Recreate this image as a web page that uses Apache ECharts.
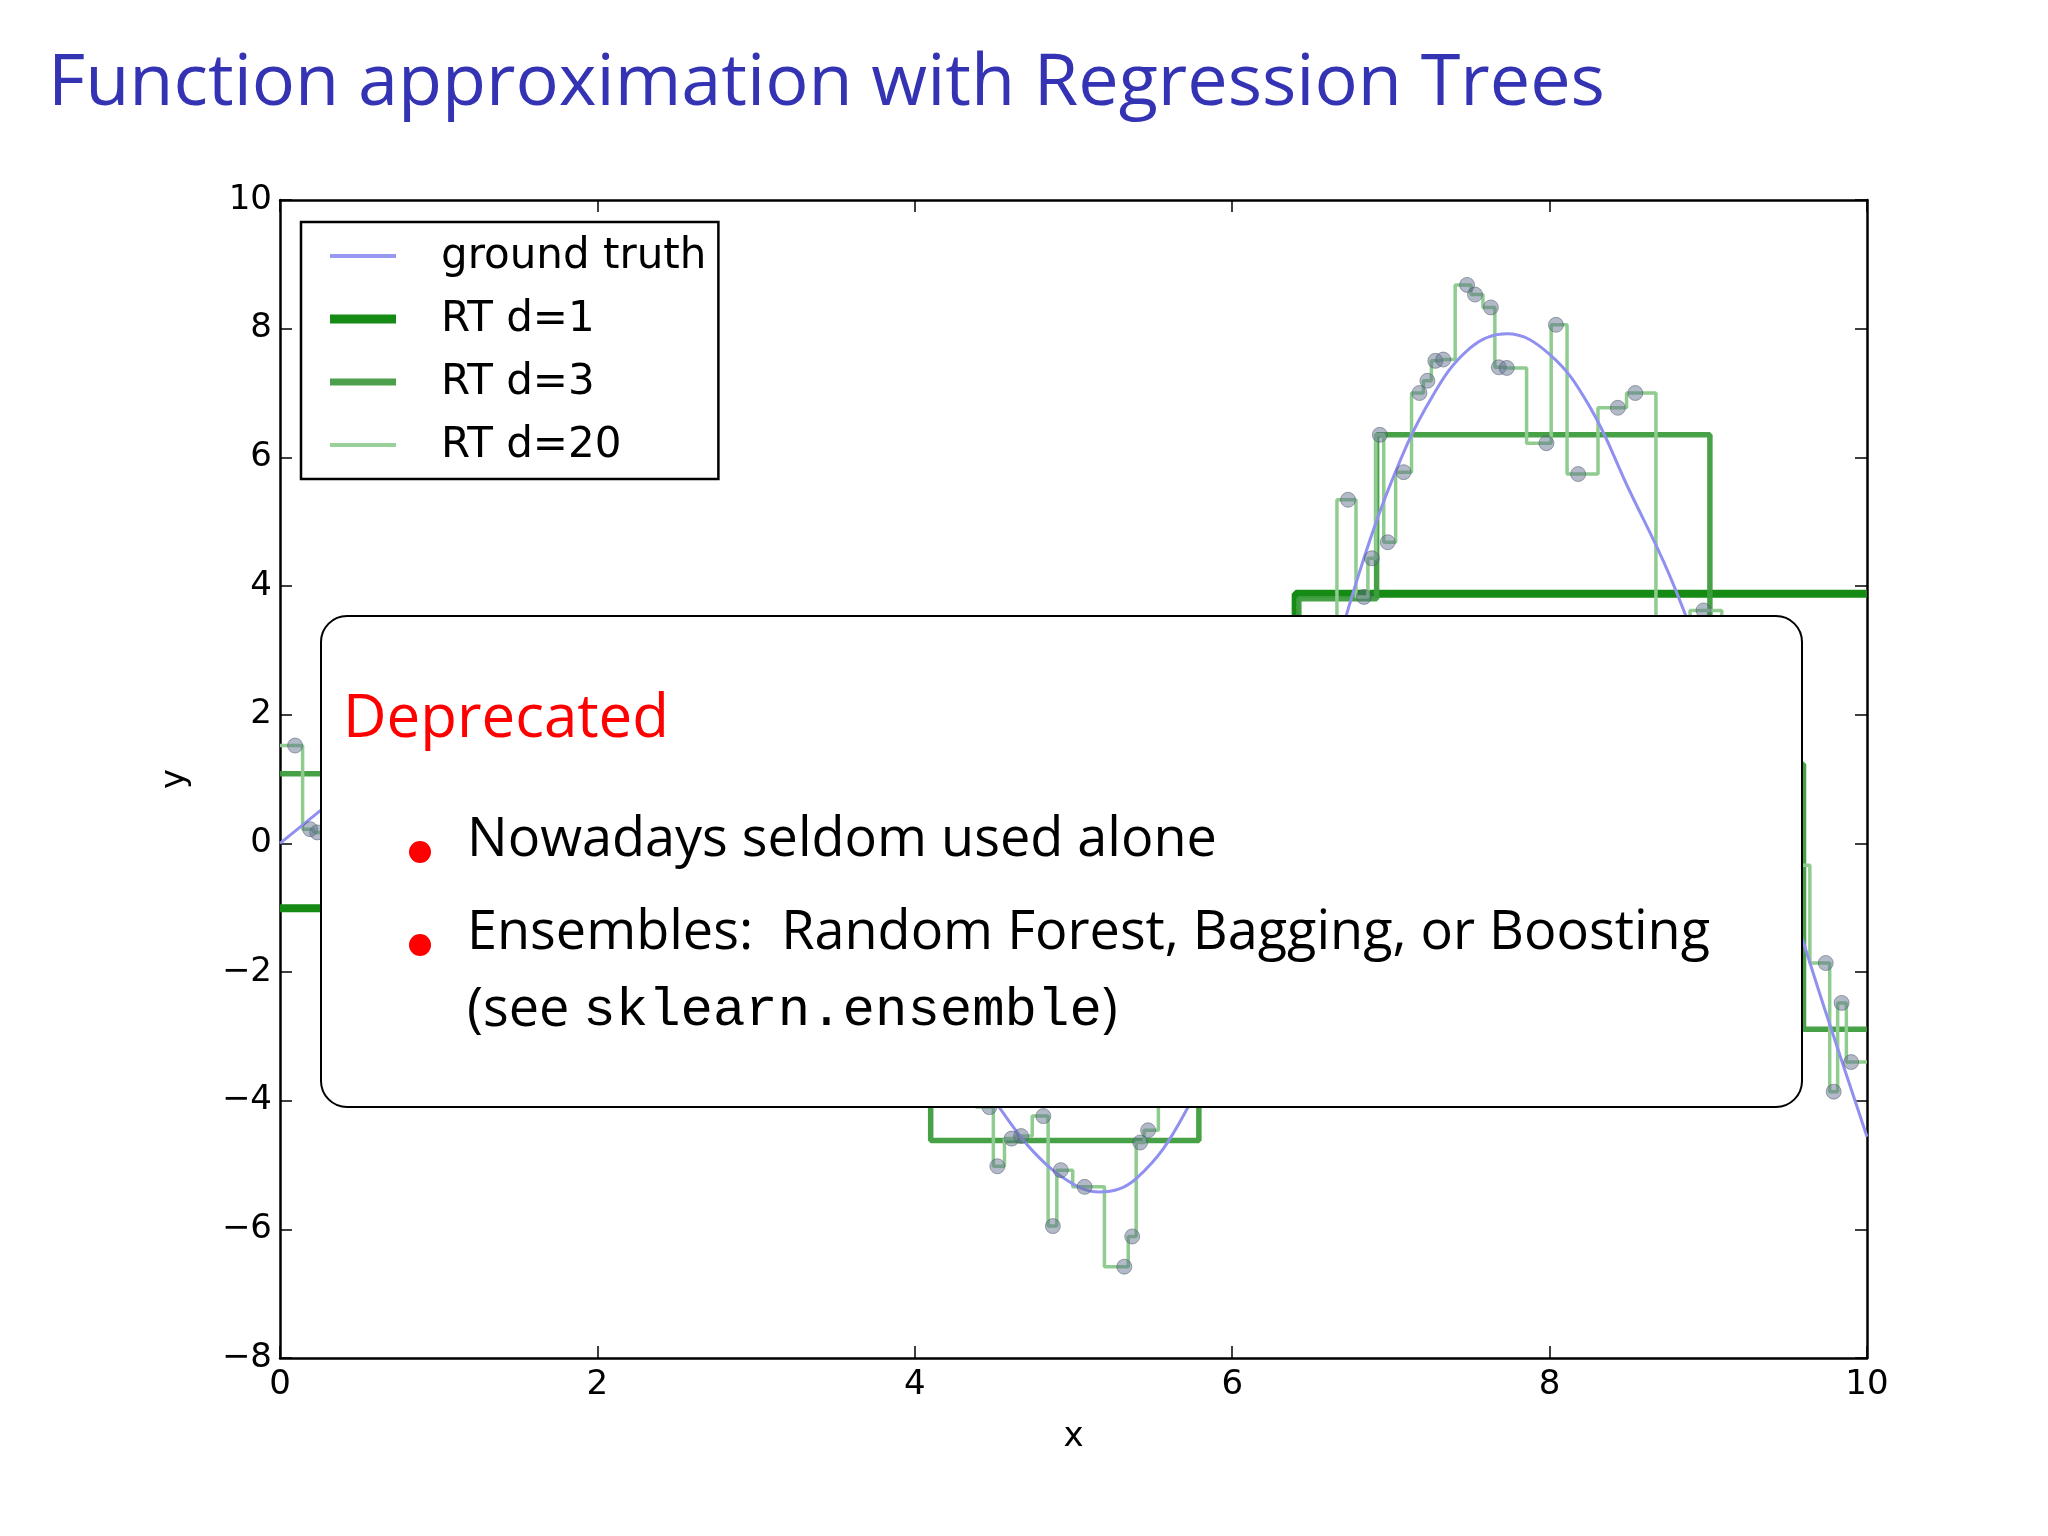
<!DOCTYPE html>
<html>
<head>
<meta charset="utf-8">
<script src="https://cdn.jsdelivr.net/npm/echarts@6/dist/echarts.min.js"></script>
<style>
html,body{margin:0;padding:0;background:#fff;}
#main{width:2048px;height:1536px;}
</style>
</head>
<body>
<div id="main"></div>
<script>
//坐标轴刻度
var xTicks = [0, 2, 4, 6, 8, 10];
var yTicks = [-8, -6, -4, -2, 0, 2, 4, 6, 8, 10];
//真实曲线
var truthX = [0, 0.25, 0.5, 1, 1.5, 2, 2.5, 3, 3.5, 4, 4.5, 4.75, 5, 5.16, 5.4, 5.7, 6, 6.3, 6.6, 6.8, 7, 7.25, 7.5, 7.73, 8, 8.25, 8.5, 8.75, 9, 9.25, 9.5, 9.75, 10];
var truthY = [0, 0.5, 1.0, 1.6, 1.9, 1.8, 1.3, 0.4, -0.8, -2.4, -4.0, -4.8, -5.3, -5.42, -5.2, -4.2, -2.5, -0.3, 2.5, 4.2, 5.6, 6.9, 7.7, 7.92, 7.6, 6.8, 5.5, 4.2, 2.6, 0.9, -0.8, -2.7, -4.56];
//样本点
var sampleX = [0.095, 0.19, 0.235, 0.6, 1.0, 1.4, 1.9, 2.3, 2.8, 3.2, 3.6, 4.0, 4.3, 4.47, 4.52, 4.61, 4.67, 4.81, 4.87, 4.92, 5.07, 5.32, 5.37, 5.42, 5.47, 5.6, 5.9, 6.2, 6.5, 6.59, 6.73, 6.83, 6.88, 6.93, 6.98, 7.08, 7.18, 7.23, 7.28, 7.33, 7.48, 7.53, 7.63, 7.68, 7.73, 7.98, 8.04, 8.18, 8.43, 8.54, 8.80, 8.97, 9.2, 9.54, 9.74, 9.79, 9.84, 9.90];
var sampleY = [1.52, 0.22, 0.17, 1.3, 1.9, 1.5, 2.3, 1.2, 0.6, -0.3, -1.5, -2.6, -3.6, -4.10, -5.02, -4.59, -4.55, -4.24, -5.95, -5.08, -5.34, -6.58, -6.11, -4.65, -4.46, -3.9, -3.0, -1.0, 1.9, 2.2, 5.34, 3.83, 4.43, 6.35, 4.68, 5.77, 7.0, 7.19, 7.50, 7.52, 8.68, 8.53, 8.33, 7.40, 7.39, 6.22, 8.06, 5.74, 6.77, 7.00, 2.9, 3.62, 1.5, -0.34, -1.86, -3.86, -2.48, -3.40];
//深度1、3的分段（起点x，值）
var d1X = [0, 6.40, 10];
var d1Y = [-1.01, 3.88, 3.88];
var d3X = [0, 3.0, 4.10, 5.79, 6.42, 6.91, 9.01, 9.60, 10];
var d3Y = [1.08, -2.3, -4.62, 0.3, 3.8, 6.35, 1.23, -2.89, -2.89];

function zip(xs, ys) {
    var out = [];
    for (var i = 0; i < xs.length; i++) out.push([xs[i], ys[i]]);
    return out;
}
var d20 = [[0, sampleY[0]]].concat(zip(sampleX, sampleY), [[10, sampleY[sampleY.length - 1]]]);

var font = 'DejaVu Sans';
var textFont = '"Open Sans"';
var myChart = echarts.init(document.getElementById('main'));
function axisBase() {
    return {
        type: 'value',
        axisLine: {onZero: false, lineStyle: {color: '#000', width: 2.5}},
        axisTick: {inside: true, length: 12, lineStyle: {color: '#000', width: 1.5}},
        splitLine: {show: false}
    };
}
//图例的线条样式
var legendNames = ['ground truth', 'RT d=1', 'RT d=3', 'RT d=20'];
var legendColors = ['#9898f0', '#158a15', '#4ca04c', '#98d098'];
var legendWidths = [4, 9, 7, 4];
var legendGraphics = [];
for (var i = 0; i < legendNames.length; i++) {
    legendGraphics.push({type: 'line', z: 50,
        shape: {x1: 330, y1: 256 + i * 63, x2: 396, y2: 256 + i * 63},
        style: {stroke: legendColors[i], lineWidth: legendWidths[i]}});
}
var option = {
    backgroundColor: '#fff',
    animation: false,
    grid: {left: 280, right: 181, top: 200, bottom: 178},
    legend: {
        orient: 'vertical', left: 301, top: 222,
        padding: [14, 12, 12, 26], itemGap: 21,
        itemWidth: 66, itemHeight: 14,
        borderColor: '#000', borderWidth: 2.5, backgroundColor: '#fff',
        textStyle: {fontFamily: font, fontSize: 42, color: '#000', padding: [0, 0, 0, 42]},
        data: legendNames.map(function (n) { return {name: n, itemStyle: {opacity: 0}, lineStyle: {opacity: 0}}; }),
        z: 5
    },
    xAxis: [
        Object.assign(axisBase(), {
            min: 0, max: 10, interval: 2, name: 'x', nameLocation: 'middle', nameGap: 62,
            nameTextStyle: {fontFamily: font, fontSize: 34, color: '#000'},
            axisLabel: {fontFamily: font, fontSize: 34, color: '#000', margin: 10}
        }),
        Object.assign(axisBase(), {min: 0, max: 10, interval: 2, position: 'top', axisLabel: {show: false}})
    ],
    yAxis: [
        Object.assign(axisBase(), {
            min: -8, max: 10, interval: 2, name: 'y', nameLocation: 'middle', nameGap: 88,
            nameTextStyle: {fontFamily: font, fontSize: 34, color: '#000'},
            axisLabel: {fontFamily: font, fontSize: 34, color: '#000', margin: 8,
                formatter: function (v) { return String(v).replace('-', '\u2212'); }}
        }),
        Object.assign(axisBase(), {min: -8, max: 10, interval: 2, position: 'right', axisLabel: {show: false}})
    ],
    series: [
        {name: 'ground truth', type: 'line', data: zip(truthX, truthY), smooth: 0.4, symbol: 'none',
            lineStyle: {color: '#9090f0', width: 3}, itemStyle: {color: '#9090f0'}, z: 3},
        {name: 'RT d=1', type: 'line', step: 'end', data: zip(d1X, d1Y), symbol: 'none',
            lineStyle: {color: '#158a15', width: 8}, itemStyle: {color: '#158a15'}, z: 2},
        {name: 'RT d=3', type: 'line', step: 'end', data: zip(d3X, d3Y), symbol: 'none',
            lineStyle: {color: '#3d9d3d', width: 5.5, opacity: 0.95}, itemStyle: {color: '#4ca04c'}, z: 2},
        {name: 'RT d=20', type: 'line', step: 'middle', data: d20, symbol: 'none',
            lineStyle: {color: '#90cc90', width: 3.5}, itemStyle: {color: '#90cc90'}, z: 2},
        {name: 'samples', type: 'scatter', data: zip(sampleX, sampleY), symbolSize: 15,
            itemStyle: {color: 'rgba(95,110,140,0.6)', borderColor: 'rgba(70,80,100,0.6)', borderWidth: 1}, z: 4}
    ],
    graphic: legendGraphics.concat([
        {type: 'text', left: 48, top: 48, style: {text: 'Function approximation with Regression Trees',
            font: '72px ' + textFont, fill: '#3333b3'}},
        {type: 'rect', shape: {x: 321, y: 616, width: 1481, height: 491, r: 26}, z: 100,
            style: {fill: '#fff', stroke: '#000', lineWidth: 2}},
        {type: 'text', x: 343, y: 690, z: 101, style: {text: 'Deprecated', font: '60px ' + textFont, fill: '#ff0000'}},
        {type: 'circle', shape: {cx: 420, cy: 852, r: 11}, z: 101, style: {fill: '#ff0000'}},
        {type: 'circle', shape: {cx: 420, cy: 945, r: 11}, z: 101, style: {fill: '#ff0000'}},
        {type: 'text', x: 467, y: 814, z: 101, style: {text: 'Nowadays seldom used alone', font: '54px ' + textFont, fill: '#000'}},
        {type: 'text', x: 467, y: 907, z: 101, style: {text: 'Ensembles:  Random Forest, Bagging, or Boosting', font: '54px ' + textFont, fill: '#000'}},
        {type: 'text', x: 467, y: 984, z: 101, style: {rich: {a: {font: '54px ' + textFont, fill: '#000'}, m: {font: '54px "Liberation Mono"', fill: '#000'}},
            text: '{a|(see }{m|sklearn.ensemble}{a|)}'}}
    ])
};
myChart.setOption(option);
</script>
</body>
</html>
